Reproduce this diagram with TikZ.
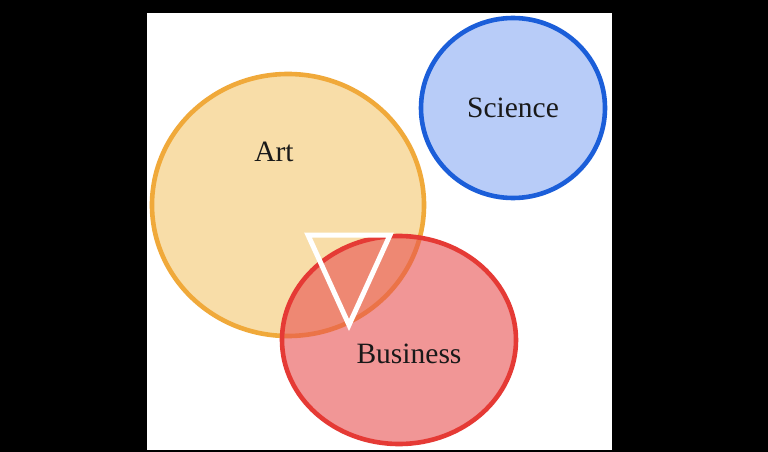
\documentclass[tikz,border=0pt]{standalone}
\usepackage{fontspec}
\setmainfont{Liberation Serif}
\begin{document}
\begin{tikzpicture}[x=1pt,y=-1pt,
  label/.style={font=\fontsize{29.5}{32}\selectfont, text=black!90, inner sep=0pt},
  setcircle/.style={line width=4.6pt}]
\definecolor{artfill}{HTML}{F8DDA8}
\definecolor{artline}{HTML}{F0A93A}
\definecolor{scifill}{HTML}{B8CCF8}
\definecolor{sciline}{HTML}{1B5ED9}
\definecolor{busfill}{HTML}{E85050}
\definecolor{busline}{HTML}{E53A35}
\fill[black] (0,0) rectangle (768,452);
\useasboundingbox (0,0) rectangle (768,452);
\fill[white] (147,13) rectangle (612,450);
% Art
\draw[setcircle, draw=artline, fill=artfill] (288,205) ellipse [x radius=136, y radius=131];
% Science
\draw[setcircle, draw=sciline, fill=scifill] (513,108) ellipse [x radius=92, y radius=90];
% Business
\fill[busfill, fill opacity=0.6] (399,340) ellipse [x radius=117, y radius=104];
\draw[setcircle, draw=busline] (399,340) ellipse [x radius=117, y radius=104];
% Triangle
\draw[white, line width=5pt, line join=miter] (308,235) -- (390,235) -- (349,325) -- cycle;
\node[label] (art) at (274,152) {Art};
\node[label] (sci) at (513,108) {Science};
\node[label] (bus) at (409,354) {Business};
\end{tikzpicture}
\end{document}
